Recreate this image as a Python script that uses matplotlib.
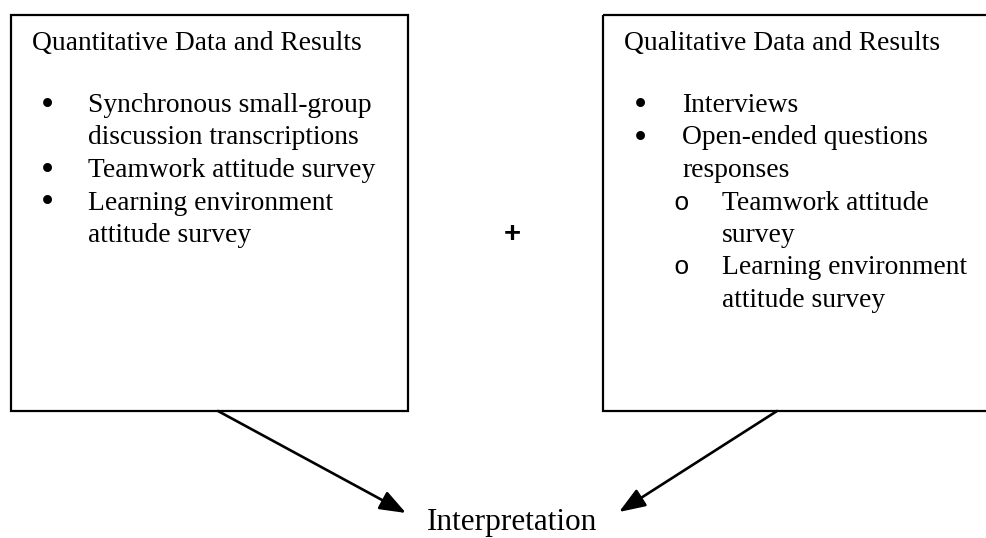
import matplotlib.pyplot as plt
from matplotlib.patches import Rectangle

# Text content of the diagram
left_title = "Quantitative Data and Results"
left_lines = ["Synchronous small-group", "discussion transcriptions",
              "Teamwork attitude survey", "Learning environment",
              "attitude survey"]
left_marks = ["•", "", "•", "•", ""]

right_title = "Qualitative Data and Results"
right_lines = ["Interviews", "Open-ended questions", "responses",
               "Teamwork attitude", "survey", "Learning environment",
               "attitude survey"]
right_marks = ["•", "•", "", "o", "", "o", ""]
right_levels = [0, 0, 0, 1, 1, 1, 1]

joiner = "+"
result = "Interpretation"

serif = "Liberation Serif"
fs = 19.8          # body text size (pt)
line_h = 32.5      # line spacing (px)
first_base = 112   # baseline of first list line (px)

fig = plt.figure(figsize=(9.86, 5.38), dpi=100)
ax = fig.add_axes([0, 0, 1, 1])
ax.set_xlim(0, 986)
ax.set_ylim(538, 0)
ax.axis("off")

# boxes
ax.add_patch(Rectangle((11, 15), 397, 396, fill=False, lw=1.6, ec="black"))
ax.add_patch(Rectangle((603, 15), 400, 396, fill=False, lw=1.6, ec="black"))

# left box text
ax.text(32, 50, left_title, family=serif, fontsize=fs, va="baseline")
for i, (mark, line) in enumerate(zip(left_marks, left_lines)):
    y = first_base + i * line_h
    if mark:
        ax.text(47, y + 4, mark, family=serif, fontsize=fs * 1.35,
                va="baseline", ha="center")
    ax.text(88, y, line, family=serif, fontsize=fs, va="baseline")

# right box text
ax.text(624, 50, right_title, family=serif, fontsize=fs, va="baseline")
for i, (mark, line, lev) in enumerate(zip(right_marks, right_lines, right_levels)):
    y = first_base + i * line_h
    if lev == 0:
        if mark:
            ax.text(640, y + 4, mark, family=serif, fontsize=fs * 1.35,
                    va="baseline", ha="center")
        ax.text(682, y, line, family=serif, fontsize=fs, va="baseline")
    else:
        if mark:
            ax.text(681, y, mark, family="Liberation Mono", fontsize=fs * 0.95,
                    va="baseline", ha="center")
        ax.text(722, y, line, family=serif, fontsize=fs, va="baseline")

# plus sign between boxes
ax.text(512, 231, joiner, family="Liberation Sans", fontsize=21, weight="bold",
        ha="center", va="center_baseline")

# result label
ax.text(512.5, 530, result, family=serif, fontsize=22.5, ha="center", va="baseline")

# arrows
arrow_kw = dict(arrowstyle="-|>,head_length=0.8,head_width=0.3", lw=1.9,
                color="black", shrinkA=0, shrinkB=0, mutation_scale=20)
ax.annotate("", xy=(406, 513), xytext=(218, 411), arrowprops=arrow_kw)
ax.annotate("", xy=(619, 512), xytext=(777, 411), arrowprops=arrow_kw)

fig.savefig("out.png", dpi=100, facecolor="white")
